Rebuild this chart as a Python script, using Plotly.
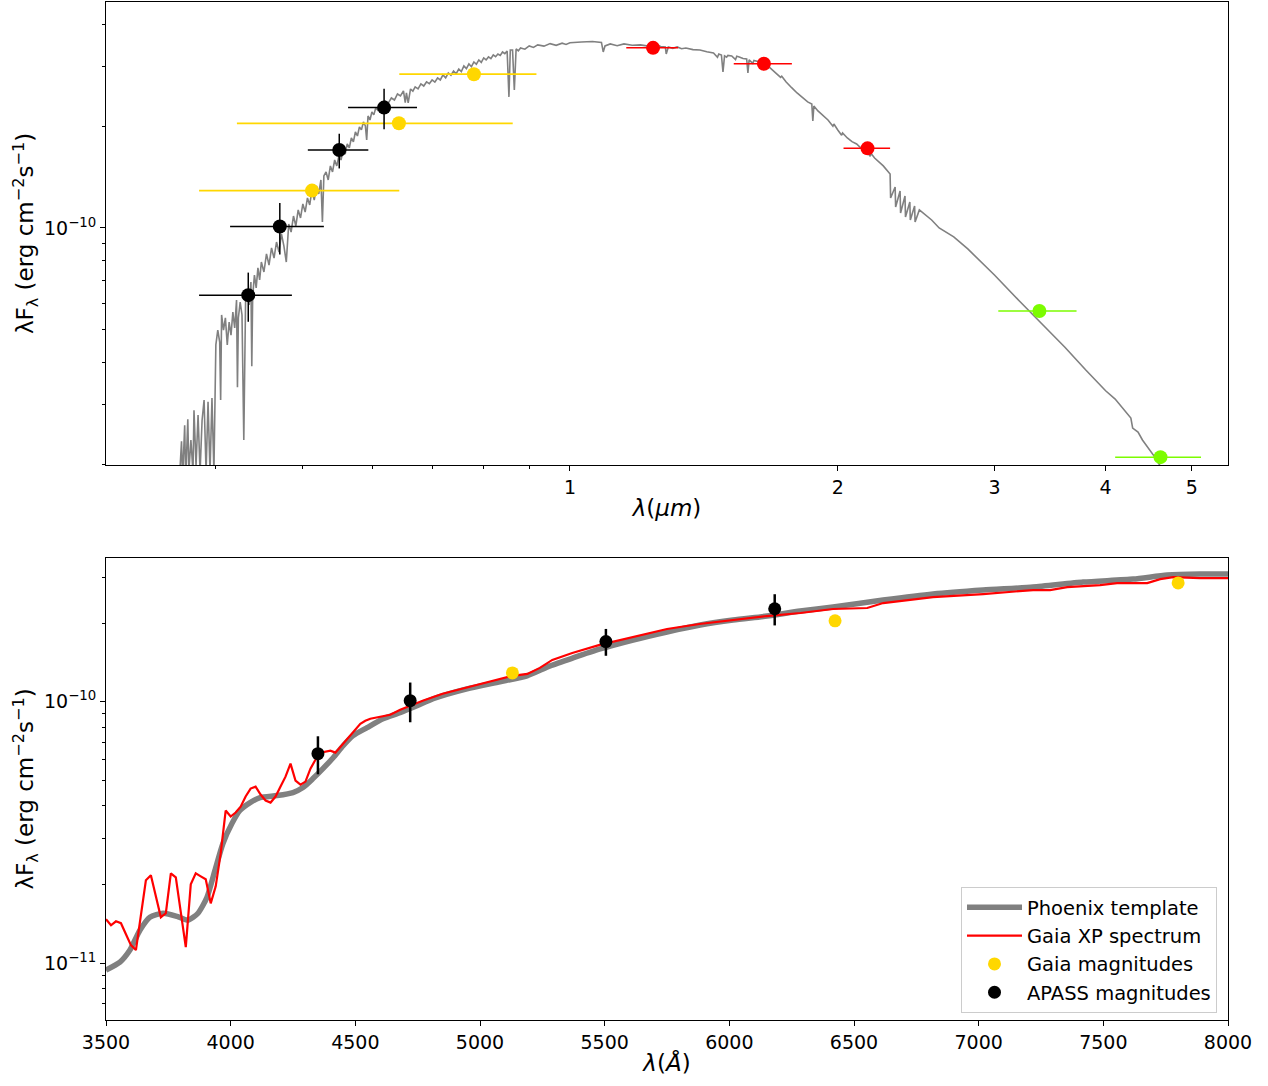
import plotly.graph_objects as go

# ---------------- data ----------------
FLUX_UNIT = 1e-10  # erg cm^-2 s^-1

# Phoenix model spectrum (top panel), wavelength in micron, flux in units of 1e-10
spec_wl_um = [
    0.360, 0.364, 0.366, 0.367, 0.369, 0.370, 0.372, 0.373, 0.375, 0.377, 0.378, 0.380,
    0.382, 0.384, 0.386, 0.388, 0.390, 0.392, 0.394, 0.396, 0.398, 0.400, 0.402, 0.404,
    0.405, 0.406, 0.408, 0.410, 0.412, 0.414, 0.416, 0.418, 0.420, 0.422, 0.423, 0.424,
    0.426, 0.428, 0.430, 0.432, 0.434, 0.436, 0.438, 0.439, 0.440, 0.442, 0.444, 0.446,
    0.448, 0.450, 0.453, 0.456, 0.459, 0.462, 0.465, 0.468, 0.471, 0.474, 0.477, 0.480,
    0.483, 0.486, 0.489, 0.492, 0.495, 0.498, 0.501, 0.504, 0.507, 0.510, 0.513, 0.516,
    0.519, 0.522, 0.525, 0.527, 0.529, 0.532, 0.535, 0.538, 0.541, 0.544, 0.547, 0.550,
    0.553, 0.556, 0.559, 0.562, 0.565, 0.568, 0.571, 0.574, 0.577, 0.580, 0.583, 0.586,
    0.589, 0.591, 0.593, 0.596, 0.599, 0.602, 0.605, 0.608, 0.612, 0.616, 0.620, 0.625,
    0.630, 0.635, 0.640, 0.645, 0.650, 0.653, 0.655, 0.658, 0.662, 0.666, 0.670, 0.675,
    0.680, 0.685, 0.690, 0.695, 0.700, 0.705, 0.710, 0.715, 0.720, 0.725, 0.730, 0.735,
    0.740, 0.745, 0.750, 0.755, 0.760, 0.765, 0.770, 0.775, 0.780, 0.785, 0.790, 0.795,
    0.800, 0.805, 0.810, 0.815, 0.820, 0.825, 0.830, 0.835, 0.840, 0.845, 0.850, 0.854,
    0.857, 0.862, 0.866, 0.870, 0.875, 0.880, 0.890, 0.900, 0.910, 0.920, 0.935, 0.950,
    0.965, 0.980, 0.990, 1.000, 1.030, 1.060, 1.085, 1.090, 1.095, 1.110, 1.130, 1.150,
    1.175, 1.200, 1.225, 1.250, 1.265, 1.280, 1.283, 1.290, 1.305, 1.320, 1.335, 1.350,
    1.375, 1.400, 1.425, 1.450, 1.465, 1.470, 1.480, 1.486, 1.492, 1.500, 1.505, 1.520,
    1.535, 1.540, 1.550, 1.565, 1.580, 1.585, 1.590, 1.605, 1.610, 1.620, 1.635, 1.650,
    1.675, 1.700, 1.725, 1.730, 1.750, 1.775, 1.800, 1.850, 1.870, 1.875, 1.880, 1.900,
    1.950, 1.975, 1.980, 2.000, 2.020, 2.025, 2.050, 2.075, 2.100, 2.125, 2.150, 2.175,
    2.180, 2.200, 2.250, 2.290, 2.293, 2.320, 2.323, 2.350, 2.353, 2.380, 2.383, 2.410,
    2.413, 2.440, 2.443, 2.470, 2.500, 2.550, 2.600, 2.700, 2.800, 3.000, 3.200, 3.400,
    3.600, 3.800, 4.000, 4.100, 4.200, 4.270, 4.290, 4.350, 4.400, 4.450, 4.500, 4.550,
    4.600, 4.650,
]
spec_flux = [
    0.180, 0.180, 0.234, 0.180, 0.261, 0.180, 0.272, 0.190, 0.236, 0.190, 0.289, 0.198,
    0.280, 0.190, 0.270, 0.310, 0.190, 0.306, 0.190, 0.314, 0.190, 0.451, 0.499, 0.460,
    0.310, 0.553, 0.499, 0.542, 0.451, 0.527, 0.482, 0.564, 0.506, 0.612, 0.338, 0.542,
    0.604, 0.553, 0.236, 0.612, 0.656, 0.592, 0.692, 0.390, 0.629, 0.726, 0.665, 0.762,
    0.702, 0.793, 0.741, 0.838, 0.777, 0.873, 0.815, 0.909, 0.849, 0.960, 0.885, 0.793,
    1.028, 0.973, 1.085, 1.014, 1.131, 1.071, 1.178, 1.115, 1.227, 1.170, 1.296, 1.210,
    1.331, 1.261, 1.387, 1.042, 1.425, 1.465, 1.387, 1.526, 1.465, 1.589, 1.526, 1.633,
    1.589, 1.701, 1.655, 1.772, 1.725, 1.846, 1.797, 1.923, 1.871, 1.990, 1.950, 2.059,
    2.004, 1.821, 2.145, 2.087, 2.204, 2.160, 2.265, 2.234, 2.327, 2.296, 2.375, 2.344,
    2.424, 2.391, 2.491, 2.458, 2.543, 2.350, 2.508, 2.344, 2.577, 2.540, 2.613, 2.580,
    2.667, 2.630, 2.704, 2.670, 2.741, 2.700, 2.778, 2.740, 2.836, 2.780, 2.874, 2.830,
    2.914, 2.860, 2.953, 2.900, 3.015, 2.960, 3.056, 3.000, 3.098, 3.050, 3.141, 3.090,
    3.184, 3.140, 3.206, 3.170, 3.249, 3.210, 3.271, 3.240, 3.316, 3.280, 3.339, 2.442,
    3.362, 3.362, 2.559, 3.385, 3.340, 3.408, 3.380, 3.455, 3.420, 3.479, 3.450, 3.510,
    3.470, 3.520, 3.490, 3.530, 3.550, 3.560, 3.540, 3.316, 3.455, 3.503, 3.460, 3.503,
    3.470, 3.479, 3.450, 3.479, 3.440, 3.432, 3.271, 3.432, 3.400, 3.432, 3.390, 3.408,
    3.370, 3.362, 3.320, 3.294, 3.200, 3.270, 3.249, 2.894, 3.228, 3.200, 3.240, 3.228,
    3.150, 3.220, 3.206, 3.170, 3.162, 2.874, 3.141, 3.070, 3.130, 3.119, 3.090, 3.077,
    2.990, 2.894, 2.790, 2.810, 2.704, 2.600, 2.508, 2.360, 2.327, 2.073, 2.296, 2.220,
    2.087, 2.000, 2.030, 1.950, 1.880, 1.910, 1.846, 1.800, 1.772, 1.720, 1.701, 1.630,
    1.660, 1.611, 1.526, 1.445, 1.227, 1.322, 1.154, 1.287, 1.108, 1.244, 1.078, 1.194,
    1.056, 1.162, 1.042, 1.131, 1.100, 1.056, 1.000, 0.941, 0.867, 0.726, 0.608, 0.516,
    0.444, 0.380, 0.330, 0.312, 0.289, 0.274, 0.256, 0.249, 0.236, 0.2265, 0.2175, 0.209,
    0.199, 0.190,
]

# Photometry
apass_wl_um = [0.4350, 0.4720, 0.5505, 0.6182]
apass_flux = [0.633, 1.010, 1.700, 2.270]
apass_flux_err = [0.105, 0.175, 0.200, 0.310]
apass_wl_err_um = [0.052, 0.057, 0.043, 0.055]

gaia_wl_um = [0.5130, 0.6424, 0.7800]
gaia_flux = [1.290, 2.040, 2.850]
gaia_flux_err = [0.012, 0.015, 0.020]
gaia_wl_err_um = [0.130, 0.220, 0.137]

tmass_wl_um = [1.240, 1.652, 2.160]
tmass_flux = [3.41, 3.06, 1.72]
tmass_wl_err_um = [0.083, 0.124, 0.130]

wise_wl_um = [3.37, 4.61]
wise_flux = [0.568, 0.210]
wise_wl_err_um = [0.34, 0.51]

# Bottom panel: smoothed Phoenix template (Angstrom, flux in 1e-10)
phoenix_wl_A = [
    3500, 3556, 3596, 3636, 3676, 3729, 3785, 3829, 3869, 3905, 3937, 3969, 4005, 4037,
    4078, 4118, 4186, 4250, 4290, 4330, 4370, 4411, 4451, 4491, 4547, 4611, 4679, 4747,
    4812, 4948, 5080, 5189, 5281, 5373, 5482, 5614, 5750, 5883, 6015, 6151, 6284, 6416,
    6617, 6817, 7018, 7218, 7419, 7620, 7756, 7888, 8000,
]
phoenix_flux = [
    0.094, 0.1009, 0.1122, 0.1337, 0.1499, 0.1552, 0.151, 0.146, 0.1552, 0.1786, 0.2265,
    0.287, 0.342, 0.3837, 0.4116, 0.430, 0.4377, 0.4494, 0.4696, 0.5083, 0.555, 0.611,
    0.679, 0.742, 0.796, 0.861, 0.908, 0.965, 1.027, 1.121, 1.192, 1.257, 1.372, 1.472,
    1.593, 1.724, 1.850, 1.967, 2.056, 2.129, 2.225, 2.305, 2.450, 2.584, 2.676, 2.748,
    2.871, 2.948, 3.053, 3.080, 3.080,
]

# Gaia XP sampled spectrum (Angstrom, flux in 1e-10)
xp_wl_A = [
    3500, 3520, 3540, 3560, 3580, 3600, 3620, 3640, 3660, 3680, 3700, 3720, 3740, 3760,
    3780, 3800, 3820, 3840, 3860, 3880, 3900, 3920, 3940, 3960, 3980, 4000, 4020, 4040,
    4060, 4080, 4100, 4120, 4140, 4160, 4180, 4200, 4220, 4240, 4260, 4280, 4300, 4320,
    4340, 4360, 4380, 4400, 4420, 4440, 4460, 4480, 4500, 4520, 4540, 4560, 4640, 4680,
    4720, 4770, 4850, 4960, 5070, 5130, 5190, 5240, 5290, 5370, 5480, 5610, 5750, 5880,
    6015, 6150, 6285, 6416, 6553, 6617, 6817, 6954, 7018, 7218, 7286, 7355, 7487, 7555,
    7620, 7676, 7728, 7780, 7888, 8000,
]
xp_flux = [
    0.1472, 0.1396, 0.1446, 0.1422, 0.129, 0.1172, 0.1122, 0.1525, 0.2075, 0.2168, 0.1802,
    0.1499, 0.1552, 0.2206, 0.2130, 0.1566, 0.1151, 0.2003, 0.2206, 0.2148, 0.2093, 0.1694,
    0.1967, 0.263, 0.3837, 0.364, 0.377, 0.397, 0.434, 0.4656, 0.4737, 0.4417, 0.419,
    0.4116, 0.434, 0.4737, 0.517, 0.580, 0.4994, 0.482, 0.4952, 0.555, 0.600, 0.639,
    0.6445, 0.650, 0.639, 0.673, 0.7098, 0.748, 0.789, 0.824, 0.846, 0.861, 0.892, 0.932,
    0.965, 1.009, 1.073, 1.141, 1.213, 1.257, 1.279, 1.348, 1.446, 1.538, 1.651, 1.770,
    1.899, 1.985, 2.056, 2.129, 2.186, 2.265, 2.285, 2.387, 2.516, 2.561, 2.584, 2.676,
    2.676, 2.748, 2.797, 2.847, 2.847, 2.847, 2.948, 3.000, 2.974, 2.974,
]

top_xticks = [1, 2, 3, 4, 5]
top_xminor = [0.4, 0.5, 0.6, 0.7, 0.8, 0.9]
top_yticks = [1e-10]
top_yminor = [2e-11, 3e-11, 4e-11, 5e-11, 6e-11, 7e-11, 8e-11, 9e-11, 2e-10, 3e-10, 4e-10]
bot_xticks = [3500, 4000, 4500, 5000, 5500, 6000, 6500, 7000, 7500, 8000]
bot_yticks = [1e-11, 1e-10]
bot_yminor = [7e-12, 8e-12, 9e-12, 2e-11, 3e-11, 4e-11, 5e-11, 6e-11, 7e-11, 8e-11,
              9e-11, 2e-10, 3e-10]
ytick_text = {1e-11: "10<sup>−11</sup>", 1e-10: "10<sup>−10</sup>"}

# ---------------- figure ----------------
W, H = 1268, 1086
FONT = "DejaVu Sans"
GOLD = "#FFD700"
GREEN = "#7CFC00"


def f(vals):
    return [v * FLUX_UNIT for v in vals]


def um_to_A(vals):
    return [v * 1e4 for v in vals]


fig = go.Figure()

# ---- top panel ----
fig.add_trace(go.Scatter(x=spec_wl_um, y=f(spec_flux), mode="lines",
                         line=dict(color="gray", width=1.6), showlegend=False,
                         xaxis="x", yaxis="y"))


def phot(x, y, xerr, color, yerr=None, size=14, thick=1.5):
    ey = dict(type="data", array=f(yerr), color=color, thickness=thick, width=0) if yerr else None
    return go.Scatter(x=x, y=f(y), mode="markers",
                      marker=dict(color=color, size=size, line=dict(width=0)),
                      error_x=dict(type="data", array=xerr, color=color, thickness=thick, width=0),
                      error_y=ey, showlegend=False, xaxis="x", yaxis="y")


fig.add_trace(phot(gaia_wl_um, gaia_flux, gaia_wl_err_um, GOLD, gaia_flux_err, thick=1.8))
fig.add_trace(phot(apass_wl_um, apass_flux, apass_wl_err_um, "black", apass_flux_err))
fig.add_trace(phot(tmass_wl_um, tmass_flux, tmass_wl_err_um, "red"))
fig.add_trace(phot(wise_wl_um, wise_flux, wise_wl_err_um, GREEN))

# ---- bottom panel ----
fig.add_trace(go.Scatter(x=phoenix_wl_A, y=f(phoenix_flux), mode="lines",
                         line=dict(color="gray", width=5.5, shape="spline", smoothing=0.6),
                         name="Phoenix template", xaxis="x2", yaxis="y2"))
fig.add_trace(go.Scatter(x=xp_wl_A, y=f(xp_flux), mode="lines",
                         line=dict(color="red", width=2.2),
                         name="Gaia XP spectrum", xaxis="x2", yaxis="y2"))
fig.add_trace(go.Scatter(x=um_to_A(gaia_wl_um), y=f(gaia_flux), mode="markers",
                         marker=dict(color=GOLD, size=13),
                         error_y=dict(type="data", array=f(gaia_flux_err), color=GOLD,
                                      thickness=2.5, width=0),
                         name="Gaia magnitudes", xaxis="x2", yaxis="y2"))
fig.add_trace(go.Scatter(x=um_to_A(apass_wl_um), y=f(apass_flux), mode="markers",
                         marker=dict(color="black", size=13),
                         error_y=dict(type="data", array=f(apass_flux_err), color="black",
                                      thickness=2.5, width=0),
                         name="APASS magnitudes", xaxis="x2", yaxis="y2"))

x0, x1 = 106 / W, 1228 / W
top_dom = [(H - 465) / H, (H - 2) / H]
bot_dom = [(H - 1020) / H, (H - 558) / H]

axis_common = dict(showline=True, linecolor="black", linewidth=1, mirror=True,
                   ticks="outside", ticklen=5, tickwidth=1, tickcolor="black",
                   showgrid=False, zeroline=False, automargin=False,
                   tickfont=dict(family=FONT, size=19, color="black"))
minor_common = dict(ticks="outside", ticklen=3, tickwidth=1, tickcolor="black", showgrid=False)
YTITLE = "λF<sub>λ</sub> (erg cm<sup>−2</sup>s<sup>−1</sup>)"

fig.update_layout(
    width=W, height=H,
    margin=dict(l=0, r=0, t=0, b=0),
    paper_bgcolor="white", plot_bgcolor="white",
    font=dict(family=FONT, size=19, color="black"),
    xaxis=dict(axis_common, type="log", domain=[x0, x1], anchor="y",
               range=[-0.5214, 0.7396],
               tickmode="array", tickvals=top_xticks, ticktext=[str(t) for t in top_xticks],
               minor=dict(minor_common, tickvals=top_xminor),
               title=dict(text="<i>λ</i>(<i>μm</i>)", font=dict(family=FONT, size=23),
                          standoff=3)),
    yaxis=dict(axis_common, type="log", domain=top_dom, anchor="x",
               range=[-10.701, -9.3316],
               tickmode="array", tickvals=top_yticks,
               ticktext=[ytick_text[t] for t in top_yticks],
               minor=dict(minor_common, tickvals=top_yminor),
               title=dict(text=YTITLE, font=dict(family=FONT, size=23), standoff=3)),
    xaxis2=dict(axis_common, type="linear", domain=[x0, x1], anchor="y2",
                range=[3500, 8000], tickmode="array", tickvals=bot_xticks,
                ticktext=[str(t) for t in bot_xticks],
                title=dict(text="<i>λ</i>(<i>Å</i>)", font=dict(family=FONT, size=23),
                           standoff=3)),
    yaxis2=dict(axis_common, type="log", domain=bot_dom, anchor="x2",
                range=[-11.2175, -9.4498],
                tickmode="array", tickvals=bot_yticks,
                ticktext=[ytick_text[t] for t in bot_yticks],
                minor=dict(minor_common, tickvals=bot_yminor),
                title=dict(text=YTITLE, font=dict(family=FONT, size=23), standoff=3)),
    legend=dict(x=1217 / W, y=(H - 1013) / H, xanchor="right", yanchor="bottom",
                bgcolor="white", bordercolor="#cccccc", borderwidth=1,
                font=dict(family=FONT, size=19.5, color="black"),
                tracegroupgap=0, itemwidth=55),
)

fig.write_html("out.html", config={"displayModeBar": False},
               post_script="document.body.style.margin='0px';document.body.style.overflow='hidden';")
